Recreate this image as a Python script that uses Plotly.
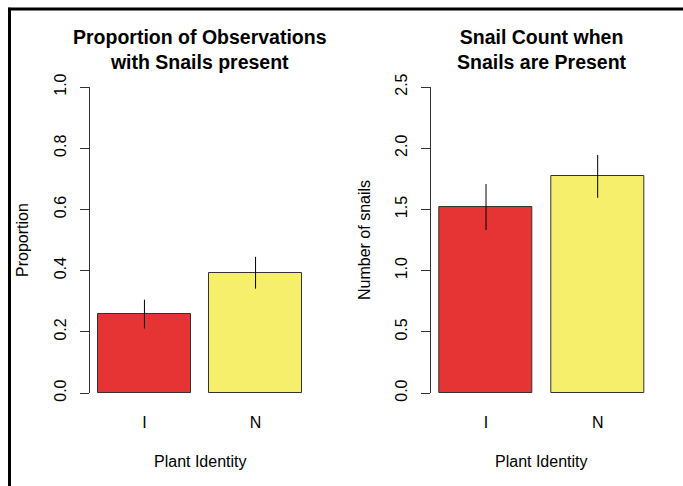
import plotly.graph_objects as go

categories = ["I", "N"]
prop_values = [0.258, 0.393]
prop_err = [0.047, 0.052]
count_values = [1.52, 1.77]
count_err = [0.188, 0.175]
bar_colors = ["#E63333", "#F5EF6B"]

W, H = 683, 486
FONT = "Liberation Sans, Arial, Helvetica, sans-serif"

def px_x(p):
    return p / W

def px_y(p):
    return (H - p) / H

fig = go.Figure()

fig.add_trace(go.Bar(
    x=categories, y=prop_values, width=1/1.2,
    marker=dict(color=bar_colors, line=dict(color="#333333", width=1)),
    error_y=dict(type="data", array=prop_err, visible=True, color="black", thickness=1, width=0),
    xaxis="x", yaxis="y", showlegend=False,
))
fig.add_trace(go.Bar(
    x=categories, y=count_values, width=1/1.2,
    marker=dict(color=bar_colors, line=dict(color="#333333", width=1)),
    error_y=dict(type="data", array=count_err, visible=True, color="black", thickness=1, width=0),
    xaxis="x2", yaxis="y2", showlegend=False,
))

ydom = [px_y(393), px_y(87)]
tickfont = dict(family=FONT, size=16, color="black")

xcommon = dict(showline=False, ticks="", showgrid=False, zeroline=False, automargin=False,
               range=[-0.49, 1.49], tickfont=tickfont, ticklabelstandoff=18)
ycommon = dict(showline=True, linecolor="#333333", linewidth=1, ticks="outside", automargin=False,
               ticklen=9, tickcolor="#333333", tickwidth=1, showgrid=False,
               zeroline=False, tickangle=-90, tickfont=tickfont, ticklabelstandoff=8)

fig.update_layout(
    template="none",
    width=W, height=H, autosize=False,
    margin=dict(l=0, r=0, t=0, b=0, pad=0, autoexpand=False),
    paper_bgcolor="white", plot_bgcolor="white",
    font=dict(family=FONT, color="black"),
    xaxis=dict(domain=[px_x(90), px_x(310)], anchor="y", **xcommon),
    yaxis=dict(domain=ydom, anchor="x", range=[0, 1], tickvals=[0, 0.2, 0.4, 0.6, 0.8, 1.0],
               ticktext=["0.0", "0.2", "0.4", "0.6", "0.8", "1.0"], **ycommon),
    xaxis2=dict(domain=[px_x(431.3), px_x(652.4)], anchor="y2", **xcommon),
    yaxis2=dict(domain=ydom, anchor="x2", range=[0, 2.5], tickvals=[0, 0.5, 1.0, 1.5, 2.0, 2.5],
                ticktext=["0.0", "0.5", "1.0", "1.5", "2.0", "2.5"], **ycommon),
    bargap=0,
)

annos = []
titlefont = dict(family=FONT, size=19.5, color="black")
labfont = dict(family=FONT, size=16, color="black")
annos.append(dict(x=px_x(199.5), y=px_y(49), xref="paper", yref="paper",
                  text="<b>Proportion of Observations</b><br><b>with Snails present</b>",
                  showarrow=False, font=titlefont, xanchor="center", yanchor="middle"))
annos.append(dict(x=px_x(541.5), y=px_y(49), xref="paper", yref="paper",
                  text="<b>Snail Count when</b><br><b>Snails are Present</b>",
                  showarrow=False, font=titlefont, xanchor="center", yanchor="middle"))
annos.append(dict(x=px_x(200), y=px_y(461), xref="paper", yref="paper", text="Plant Identity",
                  showarrow=False, font=labfont, xanchor="center", yanchor="middle"))
annos.append(dict(x=px_x(541.5), y=px_y(461), xref="paper", yref="paper", text="Plant Identity",
                  showarrow=False, font=labfont, xanchor="center", yanchor="middle"))
annos.append(dict(x=px_x(22), y=px_y(240), xref="paper", yref="paper", text="Proportion",
                  showarrow=False, font=labfont, textangle=-90, xanchor="center", yanchor="middle"))
annos.append(dict(x=px_x(364), y=px_y(240), xref="paper", yref="paper", text="Number of snails",
                  showarrow=False, font=labfont, textangle=-90, xanchor="center", yanchor="middle"))
fig.update_layout(annotations=annos)

fig.add_shape(type="line", xref="paper", yref="paper", x0=px_x(9.5), x1=px_x(9.5),
              y0=0, y1=px_y(7.8), line=dict(color="black", width=3))
fig.add_shape(type="line", xref="paper", yref="paper", x0=px_x(8), x1=1.0,
              y0=px_y(9), y1=px_y(9), line=dict(color="black", width=3))

fig.write_html("out.html", config={"responsive": False})
